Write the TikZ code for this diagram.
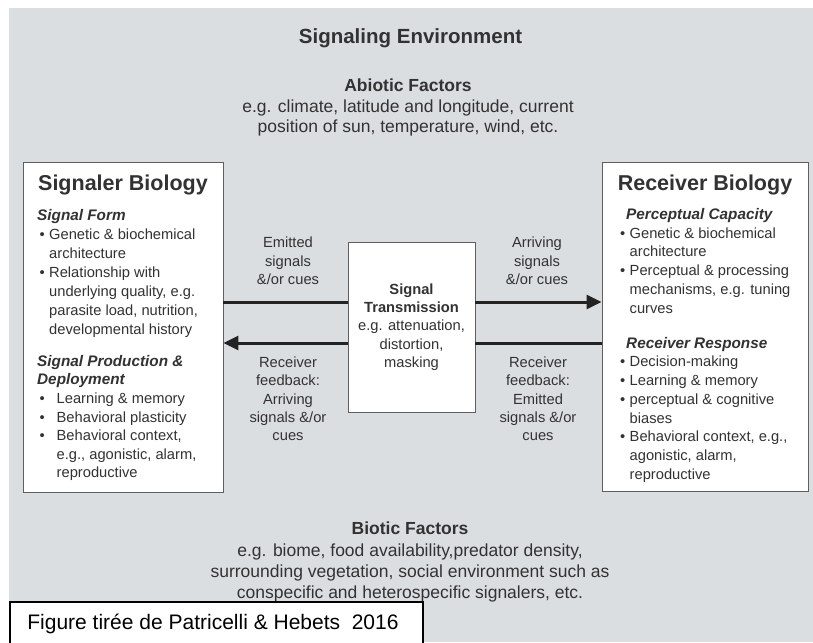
\documentclass[tikz,border=0pt]{standalone}
\usepackage{fontspec}
\setmainfont{Liberation Sans}
\usetikzlibrary{arrows.meta}
\definecolor{envgrey}{RGB}{219,222,225}
\definecolor{textgrey}{RGB}{50,50,50}
\definecolor{boxgrey}{RGB}{95,95,95}
\definecolor{arrowgrey}{RGB}{35,35,35}

\newcommand{\fsz}[2]{\fontsize{#1}{#2}\selectfont}
\newcommand{\bitem}[2][12pt]{\makebox[#1][l]{\hspace{2.5pt}\textbullet}#2}
\newcommand{\ritem}[1]{\makebox[9.5pt][l]{\textbullet}#1}
\newcommand{\bcont}[2][12pt]{\hspace*{#1}#2}
\newcommand{\bhead}[1]{{\fsz{15.3}{19}\bfseries\itshape #1}}

\begin{document}
\begin{tikzpicture}[x=1pt, y=-1pt,
    envtext/.style={text=textgrey, align=center, inner sep=0pt, font=\fsz{17.5}{20.5}},
    biobox/.style={draw=boxgrey, line width=0.9pt, fill=white, inner sep=0pt},
    boxtitle/.style={anchor=north, text=textgrey, inner sep=0pt, font=\fsz{21.5}{24}\bfseries},
    boxlist/.style={anchor=north west, align=left, text=textgrey, inner sep=0pt},
    flowlabel/.style={align=center, text=textgrey, inner sep=0pt, font=\fsz{14.7}{18.3}},
    sigarrow/.style={line width=3pt, draw=arrowgrey},
    sighead/.style={-{Triangle[length=15pt,width=14pt]}}
  ]
    % Canvas and grey environment
    \useasboundingbox (0,0) rectangle (813,642);
    \fill[white] (0,0) rectangle (813,642);
    \fill[envgrey] (9,8) rectangle (813,642);

    % Environment title and abiotic factors
    \node[text=textgrey, anchor=base, inner sep=0pt, font=\fsz{20.5}{24}\bfseries] (envtitle) at (410.5,43.3) {Signaling Environment};
    \node[envtext, anchor=north] (abiotic) at (408,79) {\textbf{Abiotic Factors}\\e.g. climate, latitude and longitude, current\\position of sun, temperature, wind, etc.};

    % The three boxes
    \node[biobox, minimum width=200pt, minimum height=330pt] (signaler) at (123,327) {};
    \node[biobox, minimum width=206pt, minimum height=329pt] (receiver) at (705,326.5) {};
    \node[biobox, minimum width=127pt, minimum height=170pt, align=center, text=textgrey, font=\fsz{14.7}{18.3}] (transmission) at (411.5,327) {\textbf{Signal}\\\textbf{Transmission}\\e.g. attenuation,\\distortion,\\masking};

    % Signaler side
    \node[boxtitle] (sigtitle) at ([yshift=-13pt]signaler.north) {Signaler Biology};
    \node[boxlist, font=\fsz{14.7}{19}] (sigform) at (37,209) {\bhead{Signal Form}\\
        \bitem{Genetic \& biochemical}\\
        \bcont{architecture}\\
        \bitem{Relationship with}\\
        \bcont{underlying quality, e.g.}\\
        \bcont{parasite load, nutrition,}\\
        \bcont{developmental history}};
    \node[boxlist, font=\fsz{14.7}{18.6}] (sigprod) at (37,355) {\bhead{Signal Production \&}\\
        \bhead{Deployment}\\
        \bitem[19.5pt]{Learning \& memory}\\
        \bitem[19.5pt]{Behavioral plasticity}\\
        \bitem[19.5pt]{Behavioral context,}\\
        \bcont[19.5pt]{e.g., agonistic, alarm,}\\
        \bcont[19.5pt]{reproductive}};

    % Receiver side
    \node[boxtitle] (rectitle) at ([yshift=-13pt]receiver.north) {Receiver Biology};
    \node[boxlist, font=\fsz{14.7}{18.8}] (recperc) at (620,208) {\hspace*{6pt}\bhead{Perceptual Capacity}\\
        \ritem{Genetic \& biochemical}\\
        \bcont[9.5pt]{architecture}\\
        \ritem{Perceptual \& processing}\\
        \bcont[9.5pt]{mechanisms, e.g. tuning}\\
        \bcont[9.5pt]{curves}};
    \node[boxlist, font=\fsz{14.7}{18.7}] (recresp) at (620,337) {\hspace*{6pt}\bhead{Receiver Response}\\
        \ritem{Decision-making}\\
        \ritem{Learning \& memory}\\
        \ritem{perceptual \& cognitive}\\
        \bcont[9.5pt]{biases}\\
        \ritem{Behavioral context, e.g.,}\\
        \bcont[9.5pt]{agonistic, alarm,}\\
        \bcont[9.5pt]{reproductive}};

    % Signal flow between the boxes
    \coordinate (upper) at (0,302);
    \coordinate (lower) at (0,343);
    \draw[sigarrow] (signaler.east |- upper) -- (transmission.west |- upper);
    \draw[sigarrow, sighead] (transmission.east |- upper) -- (receiver.west |- upper);
    \draw[sigarrow] (receiver.west |- lower) -- (transmission.east |- lower);
    \draw[sigarrow, sighead] (transmission.west |- lower) -- (signaler.east |- lower);

    \node[flowlabel] (emitted) at (288,261) {Emitted\\signals\\\&/or cues};
    \node[flowlabel] (arriving) at (537,261) {Arriving\\signals\\\&/or cues};
    \node[flowlabel] (feedbackL) at (288,399) {Receiver\\feedback:\\Arriving\\signals \&/or\\cues};
    \node[flowlabel] (feedbackR) at (538,399) {Receiver\\feedback:\\Emitted\\signals \&/or\\cues};

    % Biotic factors
    \node[envtext, anchor=north, font=\fsz{17.5}{21.3}] (biotic) at (410,522) {\textbf{Biotic Factors}\\e.g. biome, food availability,predator density,\\surrounding vegetation, social environment such as\\conspecific and heterospecific signalers, etc.};

    % Source caption
    \draw[line width=2pt, fill=white] (10,602) rectangle (423,650);
    \node[anchor=base, inner sep=0pt, font=\fsz{21}{24}] (caption) at (213,629) {Figure tirée de Patricelli \& Hebets~~2016};
\end{tikzpicture}
\end{document}
